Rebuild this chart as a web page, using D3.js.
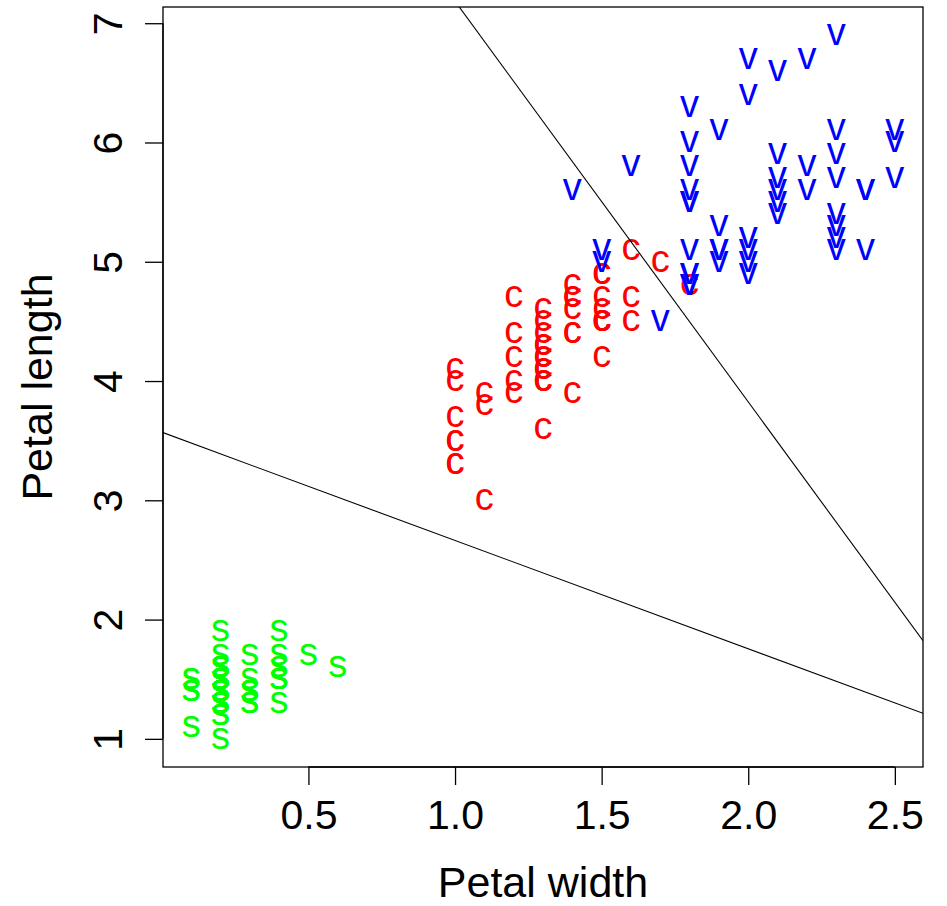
<!DOCTYPE html>
<html>
<head>
  <meta charset="utf-8">
  <title>Iris petals</title>
  <script src="https://d3js.org/d3.v7.min.js"></script>
  <style>
    body { margin: 0; background: #fff; }
    text { font-family: "Liberation Sans", Arial, sans-serif; }
  </style>
</head>
<body>
  <script>
    // petal width / length per species (iris, in data order)
    var setosaWidth = [0.2,0.2,0.2,0.2,0.2,0.4,0.3,0.2,0.2,0.1,0.2,0.2,0.1,0.1,0.2,0.4,0.4,0.3,0.3,0.3,0.2,0.4,0.2,0.5,0.2,0.2,0.4,0.2,0.2,0.2,0.2,0.4,0.1,0.2,0.2,0.2,0.2,0.1,0.2,0.2,0.3,0.3,0.2,0.6,0.4,0.3,0.2,0.2,0.2,0.2];
    var setosaLength = [1.4,1.4,1.3,1.5,1.4,1.7,1.4,1.5,1.4,1.5,1.5,1.6,1.4,1.1,1.2,1.5,1.3,1.4,1.7,1.5,1.7,1.5,1.0,1.7,1.9,1.6,1.6,1.5,1.4,1.6,1.6,1.5,1.5,1.4,1.5,1.2,1.3,1.4,1.3,1.5,1.3,1.3,1.3,1.6,1.9,1.4,1.6,1.4,1.5,1.4];
    var versicolorWidth = [1.4,1.5,1.5,1.3,1.5,1.3,1.6,1.0,1.3,1.4,1.0,1.5,1.0,1.4,1.3,1.4,1.5,1.0,1.5,1.1,1.8,1.3,1.5,1.2,1.3,1.4,1.4,1.7,1.5,1.0,1.1,1.0,1.2,1.6,1.5,1.6,1.5,1.3,1.3,1.3,1.2,1.4,1.2,1.0,1.3,1.2,1.3,1.3,1.1,1.3];
    var versicolorLength = [4.7,4.5,4.9,4.0,4.6,4.5,4.7,3.3,4.6,3.9,3.5,4.2,4.0,4.7,3.6,4.4,4.5,4.1,4.5,3.9,4.8,4.0,4.9,4.7,4.3,4.4,4.8,5.0,4.5,3.5,3.8,3.7,3.9,5.1,4.5,4.5,4.7,4.4,4.1,4.0,4.4,4.6,4.0,3.3,4.2,4.2,4.2,4.3,3.0,4.1];
    var virginicaWidth = [2.5,1.9,2.1,1.8,2.2,2.1,1.7,1.8,1.8,2.5,2.0,1.9,2.1,2.0,2.4,2.3,1.8,2.2,2.3,1.5,2.3,2.0,2.0,1.8,2.1,1.8,1.8,1.8,2.1,1.6,1.9,2.0,2.2,1.5,1.4,2.3,2.4,1.8,1.8,2.1,2.4,2.3,1.9,2.3,2.5,2.3,1.9,2.0,2.3,1.8];
    var virginicaLength = [6.0,5.1,5.9,5.6,5.8,6.6,4.5,6.3,5.8,6.1,5.1,5.3,5.5,5.0,5.1,5.3,5.5,6.7,6.9,5.0,5.7,4.9,6.7,4.9,5.7,6.0,4.8,4.9,5.6,5.8,6.1,6.4,5.6,5.1,5.6,6.1,5.6,5.5,4.8,5.4,5.6,5.1,5.1,5.9,5.7,5.2,5.0,5.2,5.4,5.1];

    var speciesLabels = ['s', 'c', 'v'];
    var speciesColors = ['#00ff00', '#ff0000', '#0000ff'];

    // boundary lines: length = intercept + slope * width
    var lineIntercepts = [3.571, 10.544];
    var lineSlopes = [-0.9078, -3.3595];

    var xTicks = [0.5, 1.0, 1.5, 2.0, 2.5];
    var yTicks = [1, 2, 3, 4, 5, 6, 7];

    var W = 947, H = 906;
    // plot box (window.top is read-only, so no "top" here)
    var boxL = 163, boxR = 923, boxT = 7, boxB = 767;
    var font = '"Liberation Sans", Arial, sans-serif';

    var x = d3.scaleLinear().domain([0.004, 2.596]).range([boxL, boxR]);
    var y = d3.scaleLinear().domain([0.764, 7.136]).range([boxB, boxT]);

    var svg = d3.select('body').append('svg')
      .attr('width', W)
      .attr('height', H);

    svg.append('clipPath').attr('id', 'plotclip')
      .append('rect')
      .attr('x', boxL).attr('y', boxT)
      .attr('width', boxR - boxL).attr('height', boxB - boxT);

    // points, drawn as letters
    var groups = [
      [setosaWidth, setosaLength],
      [versicolorWidth, versicolorLength],
      [virginicaWidth, virginicaLength]
    ];
    var pts = [];
    groups.forEach(function(g, k) {
      g[0].forEach(function(w, i) {
        pts.push({ w: w, l: g[1][i], k: k });
      });
    });

    var fs = 38;
    svg.append('g').selectAll('text')
      .data(pts)
      .enter().append('text')
      .attr('x', function(d) { return x(d.w); })
      .attr('y', function(d) { return y(d.l) + fs * 0.26; })
      .attr('text-anchor', 'middle')
      .attr('font-size', fs)
      .attr('fill', function(d) { return speciesColors[d.k]; })
      .text(function(d) { return speciesLabels[d.k]; });

    // ablines
    var xd = x.domain();
    svg.append('g').attr('clip-path', 'url(#plotclip)')
      .selectAll('line')
      .data(lineIntercepts.map(function(a, i) { return { a: a, b: lineSlopes[i] }; }))
      .enter().append('line')
      .attr('x1', x(xd[0]))
      .attr('y1', function(d) { return y(d.a + d.b * xd[0]); })
      .attr('x2', x(xd[1]))
      .attr('y2', function(d) { return y(d.a + d.b * xd[1]); })
      .attr('stroke', '#000')
      .attr('stroke-width', 1.1);

    // box
    svg.append('rect')
      .attr('x', boxL).attr('y', boxT)
      .attr('width', boxR - boxL).attr('height', boxB - boxT)
      .attr('fill', 'none')
      .attr('stroke', '#000')
      .attr('stroke-width', 1.3);

    // x axis
    var xAxis = svg.append('g')
      .attr('transform', 'translate(0,' + boxB + ')')
      .call(d3.axisBottom(x).tickValues(xTicks).tickFormat(d3.format('.1f'))
        .tickSize(18).tickSizeOuter(0).tickPadding(15));
    xAxis.select('.domain').remove();
    xAxis.append('line')
      .attr('x1', x(xTicks[0])).attr('x2', x(xTicks[xTicks.length - 1]))
      .attr('stroke', '#000');
    xAxis.selectAll('line').attr('stroke-width', 1.3);
    xAxis.selectAll('text')
      .attr('font-size', 41)
      .attr('font-family', font)
      .attr('fill', '#000');

    // y axis, labels turned like R's default las = 0
    var yAxis = svg.append('g')
      .attr('transform', 'translate(' + boxL + ',0)')
      .call(d3.axisLeft(y).tickValues(yTicks).tickFormat(d3.format('d'))
        .tickSize(18).tickSizeOuter(0));
    yAxis.select('.domain').remove();
    yAxis.append('line')
      .attr('y1', y(yTicks[0])).attr('y2', y(yTicks[yTicks.length - 1]))
      .attr('stroke', '#000');
    yAxis.selectAll('line').attr('stroke-width', 1.3);
    yAxis.selectAll('text')
      .attr('x', null).attr('dy', null)
      .attr('transform', 'translate(-41,0) rotate(-90)')
      .attr('text-anchor', 'middle')
      .attr('font-size', 41)
      .attr('font-family', font)
      .attr('fill', '#000');

    // axis titles
    svg.append('text')
      .attr('x', (boxL + boxR) / 2)
      .attr('y', 897)
      .attr('text-anchor', 'middle')
      .attr('font-size', 43)
      .text('Petal width');

    svg.append('text')
      .attr('transform', 'translate(52,' + ((boxT + boxB) / 2) + ') rotate(-90)')
      .attr('text-anchor', 'middle')
      .attr('font-size', 43)
      .text('Petal length');
  </script>
</body>
</html>
